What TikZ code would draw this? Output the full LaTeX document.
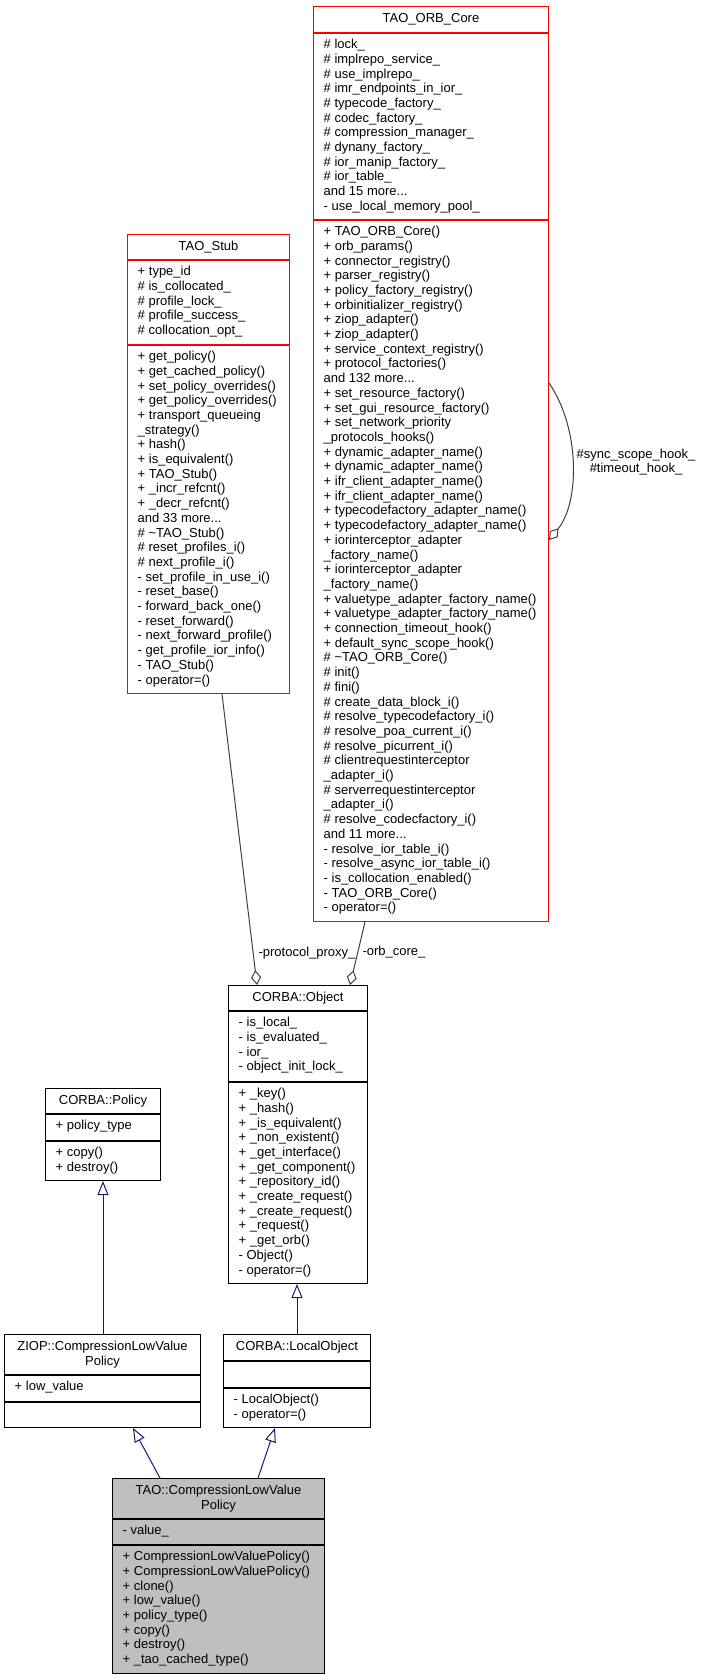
\documentclass[tikz,border=0pt]{standalone}
\usepackage{fontspec}
\setmainfont{Liberation Sans}
\usepackage{xcolor}
\usepackage{tikz}
\usetikzlibrary{arrows.meta,positioning}

\definecolor{midnightblue}{HTML}{191970}
\definecolor{grey25}{HTML}{404040}
\definecolor{grey75}{HTML}{BFBFBF}

\begin{document}
\begin{tikzpicture}[x=1pt,y=1pt,yscale=-1,
  cell/.style={draw=black,line width=1pt,inner sep=0pt,anchor=north west,align=center,font=\fontsize{13}{14.7}\selectfont},
  trunc/.style={cell,draw=red},
  focus/.style={cell,fill=grey75},
  memb/.style={anchor=north west,align=left,inner xsep=10.5pt,inner ysep=6pt,font=\fontsize{13}{14.7}\selectfont},
  lbl/.style={inner sep=0pt,font=\fontsize{13}{14.7}\selectfont},
  inherit/.style={draw=midnightblue,line width=1pt,-{Triangle[open,length=14pt,width=11pt]}},
  aggr/.style={draw=grey25,line width=1pt,-{Diamond[open,length=15pt,width=10pt]}}]

\path[use as bounding box] (0,0) rectangle (701,1677);

% TAO_ORB_Core
\node[trunc,minimum width=235pt,minimum height=26pt] (orbT) at (313,6) {TAO\_ORB\_Core};
\node[trunc,minimum width=235pt,minimum height=186pt,below=0pt of orbT] (orbA) {};
\node[trunc,minimum width=235pt,minimum height=701pt,below=0pt of orbA] (orbM) {};
\node[memb] (orbAt) at (orbA.north west) {\# lock\_\\\# implrepo\_service\_\\\# use\_implrepo\_\\\# imr\_endpoints\_in\_ior\_\\\# typecode\_factory\_\\\# codec\_factory\_\\\# compression\_manager\_\\\# dynany\_factory\_\\\# ior\_manip\_factory\_\\\# ior\_table\_\\and 15 more...\\- use\_local\_memory\_pool\_};
\node[memb] (orbMt) at (orbM.north west) {+ TAO\_ORB\_Core()\\+ orb\_params()\\+ connector\_registry()\\+ parser\_registry()\\+ policy\_factory\_registry()\\+ orbinitializer\_registry()\\+ ziop\_adapter()\\+ ziop\_adapter()\\+ service\_context\_registry()\\+ protocol\_factories()\\and 132 more...\\+ set\_resource\_factory()\\+ set\_gui\_resource\_factory()\\+ set\_network\_priority\\\_protocols\_hooks()\\+ dynamic\_adapter\_name()\\+ dynamic\_adapter\_name()\\+ ifr\_client\_adapter\_name()\\+ ifr\_client\_adapter\_name()\\+ typecodefactory\_adapter\_name()\\+ typecodefactory\_adapter\_name()\\+ iorinterceptor\_adapter\\\_factory\_name()\\+ iorinterceptor\_adapter\\\_factory\_name()\\+ valuetype\_adapter\_factory\_name()\\+ valuetype\_adapter\_factory\_name()\\+ connection\_timeout\_hook()\\+ default\_sync\_scope\_hook()\\\# \textasciitilde TAO\_ORB\_Core()\\\# init()\\\# fini()\\\# create\_data\_block\_i()\\\# resolve\_typecodefactory\_i()\\\# resolve\_poa\_current\_i()\\\# resolve\_picurrent\_i()\\\# clientrequestinterceptor\\\_adapter\_i()\\\# serverrequestinterceptor\\\_adapter\_i()\\\# resolve\_codecfactory\_i()\\and 11 more...\\- resolve\_ior\_table\_i()\\- resolve\_async\_ior\_table\_i()\\- is\_collocation\_enabled()\\- TAO\_ORB\_Core()\\- operator=()};

% TAO_Stub
\node[trunc,minimum width=162pt,minimum height=25pt] (stubT) at (127,234) {TAO\_Stub};
\node[trunc,minimum width=162pt,minimum height=84pt,below=0pt of stubT] (stubA) {};
\node[trunc,minimum width=162pt,minimum height=348pt,below=0pt of stubA] (stubM) {};
\node[memb] (stubAt) at (stubA.north west) {+ type\_id\\\# is\_collocated\_\\\# profile\_lock\_\\\# profile\_success\_\\\# collocation\_opt\_};
\node[memb] (stubMt) at (stubM.north west) {+ get\_policy()\\+ get\_cached\_policy()\\+ set\_policy\_overrides()\\+ get\_policy\_overrides()\\+ transport\_queueing\\\_strategy()\\+ hash()\\+ is\_equivalent()\\+ TAO\_Stub()\\+ \_incr\_refcnt()\\+ \_decr\_refcnt()\\and 33 more...\\\# \textasciitilde TAO\_Stub()\\\# reset\_profiles\_i()\\\# next\_profile\_i()\\- set\_profile\_in\_use\_i()\\- reset\_base()\\- forward\_back\_one()\\- reset\_forward()\\- next\_forward\_profile()\\- get\_profile\_ior\_info()\\- TAO\_Stub()\\- operator=()};

% CORBA::Object
\node[cell,minimum width=139pt,minimum height=25pt] (objT) at (228,985) {CORBA::Object};
\node[cell,minimum width=139pt,minimum height=70pt,below=0pt of objT] (objA) {};
\node[cell,minimum width=139pt,minimum height=201pt,below=0pt of objA] (objM) {};
\node[memb] (objAt) at (objA.north west) {- is\_local\_\\- is\_evaluated\_\\- ior\_\\- object\_init\_lock\_};
\node[memb] (objMt) at (objM.north west) {+ \_key()\\+ \_hash()\\+ \_is\_equivalent()\\+ \_non\_existent()\\+ \_get\_interface()\\+ \_get\_component()\\+ \_repository\_id()\\+ \_create\_request()\\+ \_create\_request()\\+ \_request()\\+ \_get\_orb()\\- Object()\\- operator=()};

% CORBA::Policy
\node[cell,minimum width=115pt,minimum height=25pt] (polT) at (45,1088) {CORBA::Policy};
\node[cell,minimum width=115pt,minimum height=26pt,below=0pt of polT] (polA) {};
\node[cell,minimum width=115pt,minimum height=39pt,below=0pt of polA] (polM) {};
\node[memb] (polAt) at (polA.north west) {+ policy\_type};
\node[memb] (polMt) at (polM.north west) {+ copy()\\+ destroy()};

% ZIOP::CompressionLowValuePolicy
\node[cell,minimum width=196pt,minimum height=40pt] (ziopT) at (4,1334) {ZIOP::CompressionLowValue\\Policy};
\node[cell,minimum width=196pt,minimum height=26pt,below=0pt of ziopT] (ziopA) {};
\node[cell,minimum width=196pt,minimum height=25pt,below=0pt of ziopA] (ziopM) {};
\node[memb] (ziopAt) at (ziopA.north west) {+ low\_value};

% CORBA::LocalObject
\node[cell,minimum width=147pt,minimum height=26pt] (locT) at (223,1334) {CORBA::LocalObject};
\node[cell,minimum width=147pt,minimum height=26pt,below=0pt of locT] (locA) {};
\node[cell,minimum width=147pt,minimum height=39pt,below=0pt of locA] (locM) {};
\node[memb] (locMt) at (locM.north west) {- LocalObject()\\- operator=()};

% TAO::CompressionLowValuePolicy
\node[focus,minimum width=212pt,minimum height=40pt] (taoT) at (112,1478) {TAO::CompressionLowValue\\Policy};
\node[focus,minimum width=212pt,minimum height=25pt,below=0pt of taoT] (taoA) {};
\node[focus,minimum width=212pt,minimum height=128pt,below=0pt of taoA] (taoM) {};
\node[memb] (taoAt) at (taoA.north west) {- value\_};
\node[memb] (taoMt) at (taoM.north west) {+ CompressionLowValuePolicy()\\+ CompressionLowValuePolicy()\\+ clone()\\+ low\_value()\\+ policy\_type()\\+ copy()\\+ destroy()\\+ \_tao\_cached\_type()};

% connectors
\draw[inherit] (ziopT.north -| 103,0) -- (polM.south -| 103,0);

\draw[inherit] (locT.north -| 297,0) -- (objM.south -| 297,0);

\draw[inherit] (taoT.north -| 160,0) -- (ziopM.south -| 133,0);

\draw[inherit] (taoT.north -| 258,0) -- (locM.south -| 275,0);

\draw[aggr] (stubM.south -| 222,0) -- (objT.north -| 257,0);

\draw[aggr] (orbM.south -| 365,0) -- (objT.north -| 350,0);

\draw[aggr] (orbM.east |- 0,383) .. controls (580,428) and (580,502) .. (orbM.east |- 0,540);

\node[lbl,anchor=base] (proxyl) at (307,956.5) {-protocol\_proxy\_};
\node[lbl,anchor=base] (corel) at (394,955.5) {-orb\_core\_};
\node[lbl,align=center] (hookl) at (636,462) {\#sync\_scope\_hook\_\\\#timeout\_hook\_};

\end{tikzpicture}
\end{document}
